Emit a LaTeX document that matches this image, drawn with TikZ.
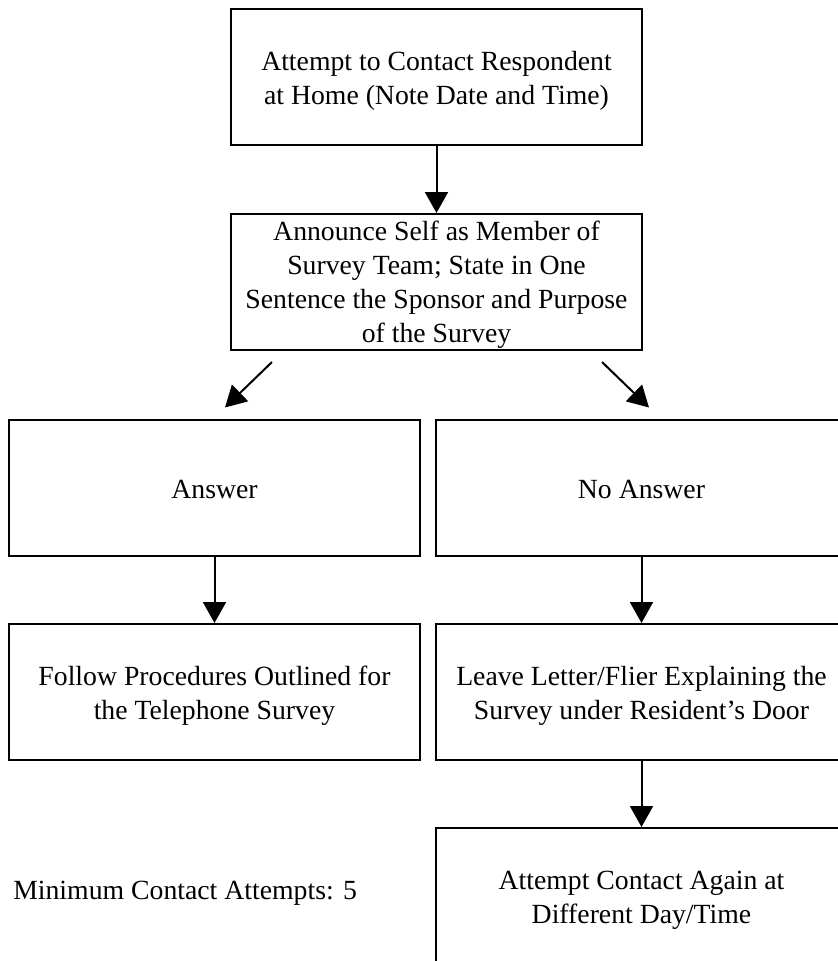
\documentclass[tikz,border=0pt]{standalone}
\usepackage{fontspec}
\setmainfont{Liberation Serif}
\usetikzlibrary{arrows.meta,calc}

\tikzset{
  flowbox/.style={draw, line width=1.5pt, rectangle, minimum width=308.25pt,
    minimum height=102pt, inner sep=0pt},
  boxtext/.style={inner sep=0pt, align=center,
    font=\fontsize{20.8}{25.5}\selectfont},
  plaintext/.style={inner sep=0pt, font=\fontsize{20.8}{25.5}\selectfont},
  flowarrow/.style={line width=1.5pt, -{Triangle[length=15.75pt, width=17.25pt]}},
}

\begin{document}
\begin{tikzpicture}[x=0.75pt, y=-0.75pt]
  % canvas
  \clip (0,0) rectangle (838,961);
  \fill[white] (0,0) rectangle (838,961);

  % boxes
  \node[flowbox] (contact)  at (436.5,77)    {};
  \node[flowbox] (announce) at (436.5,282)   {};
  \node[flowbox] (answer)   at (214.5,487.5) {};
  \node[flowbox] (noanswer) at (641.5,487.5) {};
  \node[flowbox] (follow)   at (214.5,692)   {};
  \node[flowbox] (leave)    at (641.5,692)   {};
  \node[flowbox] (again)    at (641.5,896)   {};

  % box texts, set slightly below the box centres
  \node[boxtext] (contact-text)  at ($(contact.center)+(0,4)$)  {Attempt to Contact Respondent\\at Home (Note Date and Time)};
  \node[boxtext] (announce-text) at ($(announce.center)+(0,3)$) {Announce Self as Member of\\Survey Team; State in One\\Sentence the Sponsor and Purpose\\of the Survey};
  \node[boxtext] (answer-text)   at ($(answer.center)+(0,2)$)   {Answer};
  \node[boxtext] (noanswer-text) at ($(noanswer.center)+(0,2)$) {No Answer};
  \node[boxtext] (follow-text)   at ($(follow.center)+(0,4)$)   {Follow Procedures Outlined for\\the Telephone Survey};
  \node[boxtext] (leave-text)    at ($(leave.center)+(0,4)$)    {Leave Letter/Flier Explaining the\\Survey under Resident’s Door};
  \node[boxtext] (again-text)    at ($(again.center)+(0,4)$)    {Attempt Contact Again at\\Different Day/Time};

  % free-standing note
  \node[plaintext, anchor=base west] (minimum) at (13,899) {Minimum Contact Attempts: 5};

  % connectors
  \draw[flowarrow] (contact.south) -- (announce.north);
  \draw[flowarrow] ($(announce.south west)+(42,11)$) -- ($(answer.north)+(10.5,-11)$);
  \draw[flowarrow] ($(announce.south east)+(-41,11)$) -- ($(noanswer.north)+(7.5,-11)$);
  \draw[flowarrow] (answer.south) -- (follow.north);
  \draw[flowarrow] (noanswer.south) -- (leave.north);
  \draw[flowarrow] (leave.south) -- (again.north);
\end{tikzpicture}
\end{document}
